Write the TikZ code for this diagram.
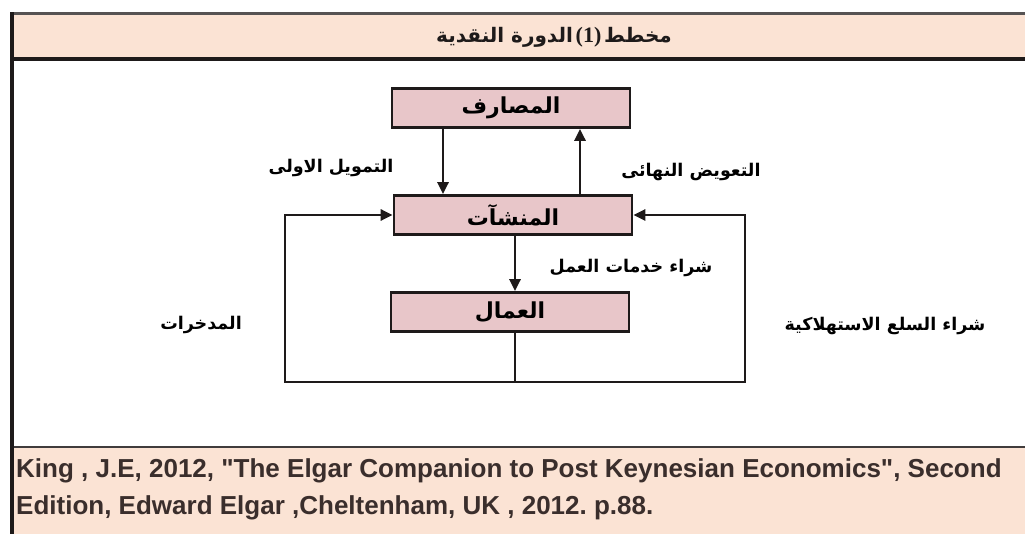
\documentclass[tikz,border=0pt]{standalone}
\usepackage{fontspec}
\setmainfont{Liberation Sans}
\newfontfamily\reffont{Liberation Sans}[Ligatures=TeXOff]
\newfontfamily\ar[Script=Arabic]{DejaVu Sans}
\newfontfamily\serifnum{Liberation Serif}
\TeXXeTstate=1
\frenchspacing
\usetikzlibrary{arrows.meta}
\definecolor{peach}{HTML}{FBE3D4}
\definecolor{boxpink}{HTML}{E8C6C9}
\definecolor{ink}{HTML}{1E1A1A}
\definecolor{foot}{HTML}{3A2E2C}
\tikzset{
  boxnode/.style={draw=ink, line width=2.8pt, fill=boxpink, minimum width=238pt, minimum height=39pt, inner sep=0pt, font=\ar\bfseries\fontsize{22}{26}\selectfont},
  lbl/.style={inner sep=0pt, font=\ar\bfseries\fontsize{17.5}{20}\selectfont},
  arr/.style={draw=ink, line width=2.9pt, -{Triangle[length=12pt,width=11pt]}},
  ln/.style={draw=ink, line width=2.9pt},
  reftext/.style={anchor=base west, inner sep=0pt, text=foot, font=\reffont\bfseries\fontsize{26}{30}\selectfont},
}
\begin{document}
\begin{tikzpicture}[x=1pt,y=-1pt]
\useasboundingbox (0,0) rectangle (1025,534);
\fill[white] (0,0) rectangle (1025,534);
% bands
\fill[peach] (12,14) rectangle (1025,59);
\fill[peach] (12,447) rectangle (1025,534);
\draw[line width=3pt, ink!75] (12,14) -- (1025,14);
\draw[line width=3.4pt, ink] (12,59) -- (1025,59);
\draw[line width=2.8pt, ink!85] (12,447) -- (1025,447);
\draw[line width=3.4pt, ink] (12,12.5) -- (12,534);
% title
\node[inner sep=0pt, text=ink] (title) at (554,37)
  {{\ar\bfseries\fontsize{20}{24}\selectfont\beginR الدورة النقدية\endR}\ {\serifnum\bfseries\fontsize{22}{24}\selectfont (1)}\ {\ar\bfseries\fontsize{20}{24}\selectfont\beginR مخطط\endR}};
% boxes
\node[boxnode] (banks) at (511,108) {\beginR المصارف\endR};
\node[boxnode] (firms) at (513,215) {\beginR المنشآت\endR};
\node[boxnode] (workers) at (510,312) {\beginR العمال\endR};
% loop corners
\coordinate (bl) at (285,382);
\coordinate (br) at (745,382);
% arrows
\draw[arr] ([xshift=-68pt]banks.south) -- ([xshift=-70pt]firms.north);
\draw[arr] ([xshift=67pt]firms.north) -- ([xshift=69pt]banks.south);
\draw[arr] ([xshift=2pt]firms.south) -- ([xshift=5pt]workers.north);
\draw[ln] ([xshift=5pt]workers.south) -- ([xshift=5pt]workers.south |- bl);
\draw[ln, line cap=rect] (bl) -- (br);
\draw[arr] (bl) |- (firms.west);
\draw[arr] (br) |- (firms.east);
% labels
\node[lbl] (l1) at (331,168) {\beginR التمويل الاولى\endR};
\node[lbl] (l2) at (691,172) {\beginR التعويض النهائى\endR};
\node[lbl] (l3) at (631,268) {\beginR شراء خدمات العمل\endR};
\node[lbl] (l4) at (201,325) {\beginR المدخرات\endR};
\node[lbl] (l5) at (885,326) {\beginR شراء السلع الاستهلاكية\endR};
% footer
\node[reftext] (ref1) at (16,477)
  {King , J.E, 2012, "The Elgar Companion to Post Keynesian Economics", Second};
\node[reftext] (ref2) at (16,514)
  {Edition, Edward Elgar ,Cheltenham, UK , 2012. p.88.};
\end{tikzpicture}
\end{document}
